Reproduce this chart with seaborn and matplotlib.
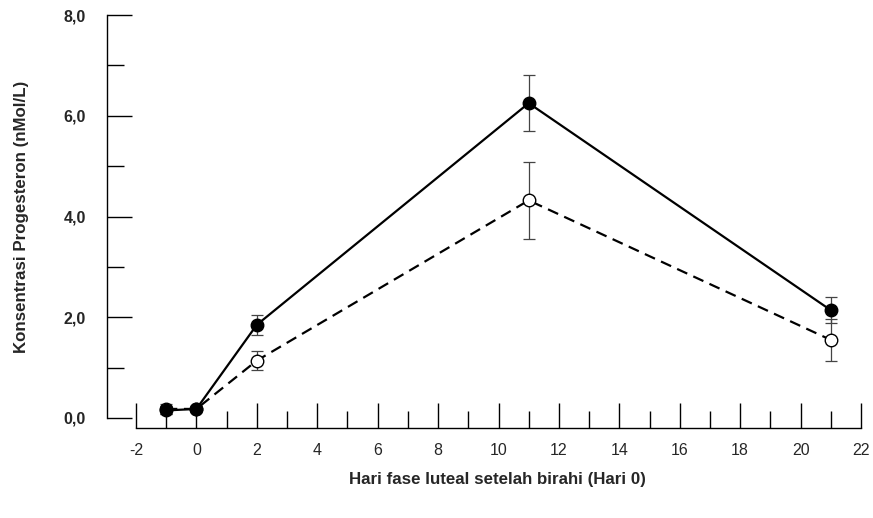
import numpy as np
import pandas as pd
import seaborn as sns
import matplotlib.pyplot as plt
from matplotlib.ticker import FixedLocator

sns.set_style("ticks")
plt.rcParams['font.family'] = ['Liberation Sans', 'DejaVu Sans']
plt.rcParams['axes.unicode_minus'] = False

# === Data ===
days = [-1, 0, 2, 11, 21]
solid_mean = [0.15, 0.18, 1.85, 6.25, 2.14]
solid_err = [0.08, 0.04, 0.20, 0.56, 0.26]
dashed_mean = [0.18, 0.18, 1.14, 4.32, 1.55]
dashed_err = [0.10, 0.04, 0.19, 0.77, 0.41]

x_ticks = list(range(-2, 23, 2))
y_ticks = [0, 2, 4, 6, 8]
y_labels = ["0,0", "2,0", "4,0", "6,0", "8,0"]

df_solid = pd.DataFrame({"day": days, "mean": solid_mean, "err": solid_err})
df_dashed = pd.DataFrame({"day": days, "mean": dashed_mean, "err": dashed_err})

fig = plt.figure(figsize=(8.73, 5.18), dpi=100)
ax = fig.add_axes([136 / 873, 1 - 418 / 518, 725 / 873, 403 / 518])

# error bars (behind markers)
for d in (df_dashed, df_solid):
    ax.errorbar(d["day"], d["mean"], yerr=d["err"], fmt="none", ecolor="#444444",
                elinewidth=0.9, capsize=4.5, capthick=0.9, zorder=1)

sns.lineplot(data=df_dashed, x="day", y="mean", ax=ax, color="black", lw=1.6,
             linestyle=(0, (5, 3)), marker="o", markersize=9,
             markerfacecolor="white", markeredgecolor="black", markeredgewidth=1.0,
             errorbar=None, zorder=3)
sns.lineplot(data=df_solid, x="day", y="mean", ax=ax, color="black", lw=1.6,
             marker="o", markersize=9, markerfacecolor="black",
             markeredgecolor="black", markeredgewidth=1.0, errorbar=None, zorder=4)

# spines first: moving them resets the ticks
sns.despine(ax=ax, offset={"left": 21, "bottom": 7})
for s in ("left", "bottom"):
    ax.spines[s].set_linewidth(1)
    ax.spines[s].set_color("black")

ax.set_xlim(-2, 22)
ax.set_ylim(0, 8)
ax.set_xticks(x_ticks)
ax.xaxis.set_minor_locator(FixedLocator(list(range(-1, 22, 2))))
ax.set_yticks(y_ticks)
ax.yaxis.set_minor_locator(FixedLocator([1, 3, 5, 7]))

ax.tick_params(axis="both", which="major", direction="in", length=18, width=1, color="black")
ax.tick_params(axis="both", which="minor", direction="in", length=12, width=1, color="black")
ax.tick_params(axis="x", which="major", pad=11, labelsize=11.5)
ax.tick_params(axis="y", which="major", pad=15, labelsize=11.5)
ax.set_yticklabels(y_labels, fontweight="bold", fontsize=11.5)

ax.set_xlabel("Hari fase luteal setelah birahi (Hari 0)", fontweight="bold", fontsize=12.2)
ax.set_ylabel("Konsentrasi Progesteron (nMol/L)", fontweight="bold", fontsize=12.2)
ax.xaxis.set_label_coords(0.498, -0.133)
ax.yaxis.set_label_coords(-0.148, 0.5)

fig.savefig("out.png", dpi=100)
